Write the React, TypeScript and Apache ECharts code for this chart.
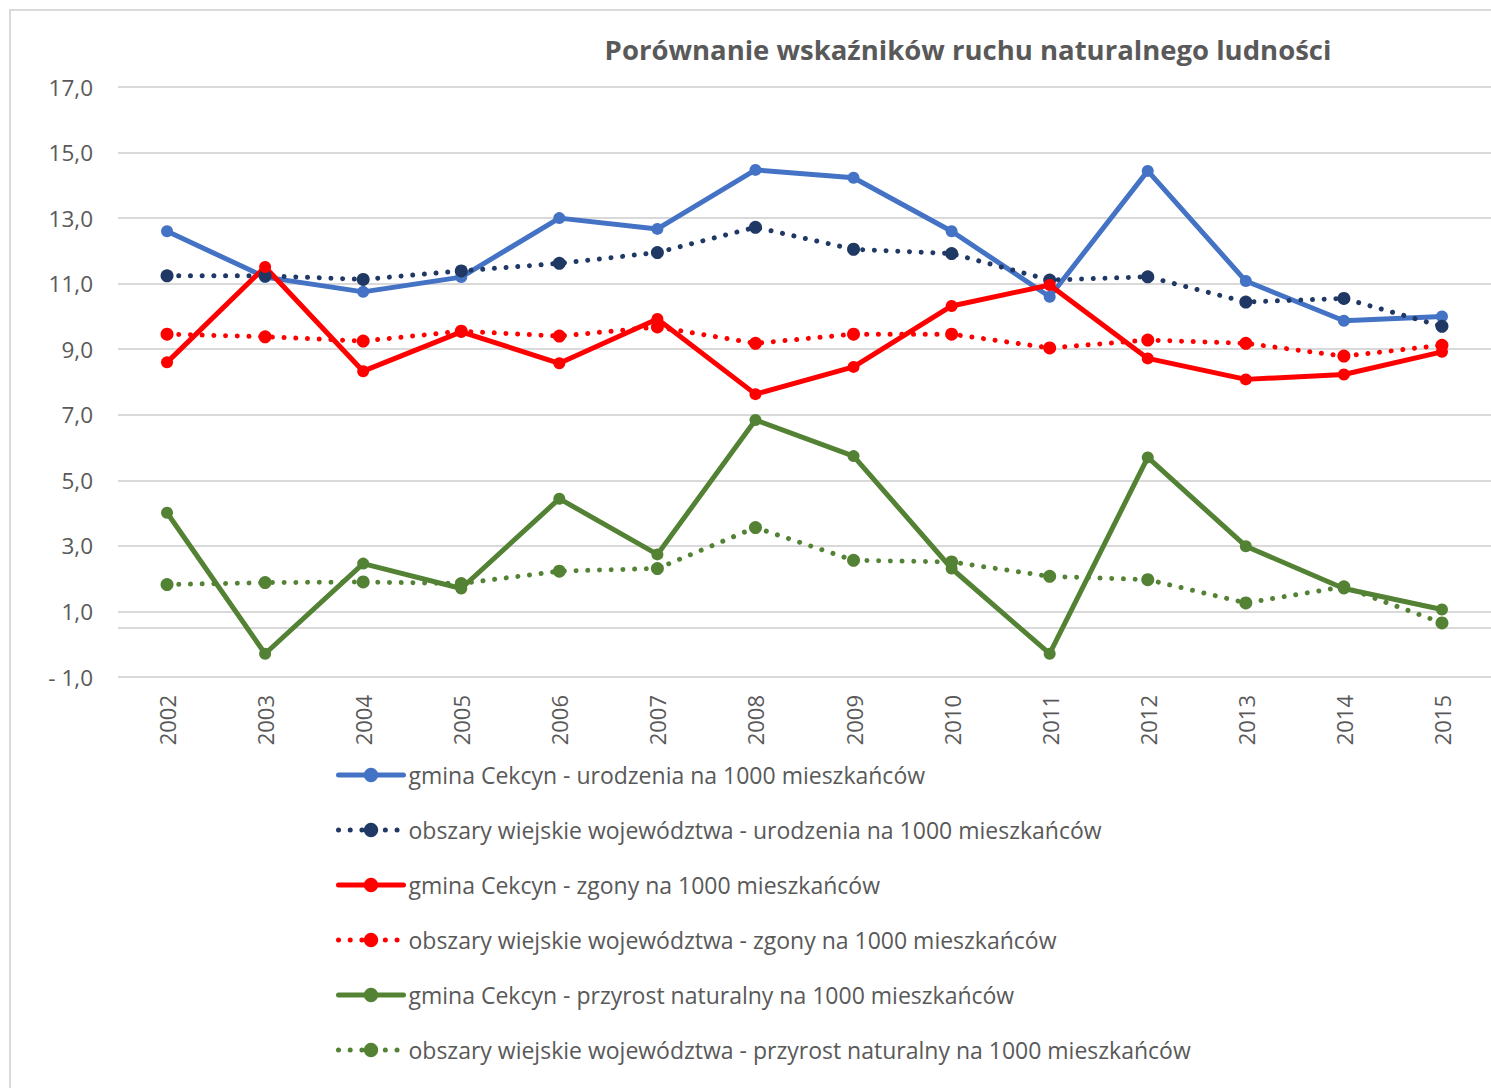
import React, { useEffect, useRef } from "react";
import * as echarts from "echarts";

const years = ["2002", "2003", "2004", "2005", "2006", "2007", "2008", "2009", "2010", "2011", "2012", "2013", "2014", "2015"];
const yTickLabels = ["- 1,0", "1,0", "3,0", "5,0", "7,0", "9,0", "11,0", "13,0", "15,0", "17,0"];

const gminaUrodzenia = [12.6, 11.2, 10.75, 11.2, 13.0, 12.67, 14.47, 14.23, 12.6, 10.6, 14.44, 11.08, 9.87, 10.0];
const wiesUrodzenia = [11.24, 11.24, 11.13, 11.39, 11.62, 11.95, 12.72, 12.05, 11.92, 11.11, 11.21, 10.44, 10.55, 9.7];
const gminaZgony = [8.6, 11.51, 8.33, 9.53, 8.57, 9.92, 7.63, 8.46, 10.32, 10.96, 8.72, 8.08, 8.23, 8.92];
const wiesZgony = [9.46, 9.38, 9.25, 9.55, 9.4, 9.68, 9.18, 9.46, 9.46, 9.04, 9.28, 9.18, 8.79, 9.12];
const gminaPrzyrost = [4.01, -0.29, 2.46, 1.7, 4.44, 2.74, 6.84, 5.74, 2.31, -0.29, 5.7, 2.99, 1.7, 1.06];
const wiesPrzyrost = [1.82, 1.88, 1.9, 1.85, 2.23, 2.31, 3.56, 2.56, 2.51, 2.07, 1.97, 1.26, 1.75, 0.65];
const crossLineValue = 0.5;

const seriesNames = [
  "gmina Cekcyn - urodzenia na 1000 mieszkańców",
  "obszary wiejskie województwa - urodzenia na 1000 mieszkańców",
  "gmina Cekcyn - zgony na 1000 mieszkańców",
  "obszary wiejskie województwa - zgony na 1000 mieszkańców",
  "gmina Cekcyn - przyrost naturalny na 1000 mieszkańców",
  "obszary wiejskie województwa - przyrost naturalny na 1000 mieszkańców",
];
const seriesData = [gminaUrodzenia, wiesUrodzenia, gminaZgony, wiesZgony, gminaPrzyrost, wiesPrzyrost];
const seriesColors = ["#4472C4", "#203864", "#FF0000", "#FF0000", "#548235", "#548235"];
const seriesDotted = [false, true, false, true, false, true];

const FONT = "'Open Sans', sans-serif";
const GREY = "#595959";

export default function App() {
  const ref = useRef<HTMLDivElement>(null);
  useEffect(() => {
    if (!ref.current) return;
    const chart = echarts.init(ref.current, null, { renderer: "svg" });
    const series: any[] = seriesNames.map((name, i) => ({
      name,
      type: "line",
      data: seriesData[i],
      symbol: "circle",
      symbolSize: seriesDotted[i] ? 13 : 12,
      color: seriesColors[i],
      itemStyle: { color: seriesColors[i] },
      lineStyle: seriesDotted[i]
        ? { color: seriesColors[i], width: 5, type: [0.01, 11.7], cap: "round" }
        : { color: seriesColors[i], width: 5, cap: "round", join: "round" },
      z: 3,
    }));
    series[0].markLine = {
      silent: true,
      symbol: ["none", "none"],
      label: { show: false },
      lineStyle: { color: "#D9D9D9", width: 2, type: "solid" },
      data: [{ yAxis: crossLineValue }],
      z: 1,
    };
    chart.setOption({
      animation: false,
      backgroundColor: "#ffffff",
      title: {
        text: "Porównanie wskaźników ruchu naturalnego ludności",
        left: 963,
        textAlign: "center",
        top: 30,
        textStyle: { fontFamily: FONT, fontSize: 27.5, fontWeight: "bold", color: GREY },
      },
      graphic: [
        {
          type: "rect",
          shape: { x: 10, y: 10, width: 1600, height: 1200 },
          style: { fill: "none", stroke: "#D9D9D9", lineWidth: 2 },
          silent: true,
        },
      ],
      legend: {
        orient: "vertical",
        left: 331,
        top: 758,
        itemWidth: 65,
        itemHeight: 18,
        itemGap: 31,
        lineStyle: { width: 5 },
        textStyle: { fontFamily: FONT, fontSize: 23, color: GREY, lineHeight: 24 },
        data: seriesNames,
      },
      grid: { left: 118, top: 87, width: 1375, height: 590, containLabel: false },
      xAxis: {
        type: "category",
        data: years,
        boundaryGap: true,
        axisLine: { show: false },
        axisTick: { show: false },
        axisLabel: { rotate: 90, margin: 18, fontFamily: FONT, fontSize: 22, color: GREY },
        splitLine: { show: false },
      },
      yAxis: {
        type: "value",
        min: -1,
        max: 17,
        interval: 2,
        axisLine: { show: false },
        axisTick: { show: false },
        axisLabel: {
          margin: 25,
          fontFamily: FONT,
          fontSize: 22.5,
          color: GREY,
          formatter: (_v: number, idx: number) => yTickLabels[idx],
        },
        splitLine: { lineStyle: { color: "#D9D9D9", width: 2 } },
      },
      series,
    });
    return () => chart.dispose();
  }, []);
  return (
    <div
      ref={ref}
      style={{ position: "fixed", left: 0, top: 0, width: 1491, height: 1088, background: "#fff" }}
    />
  );
}
